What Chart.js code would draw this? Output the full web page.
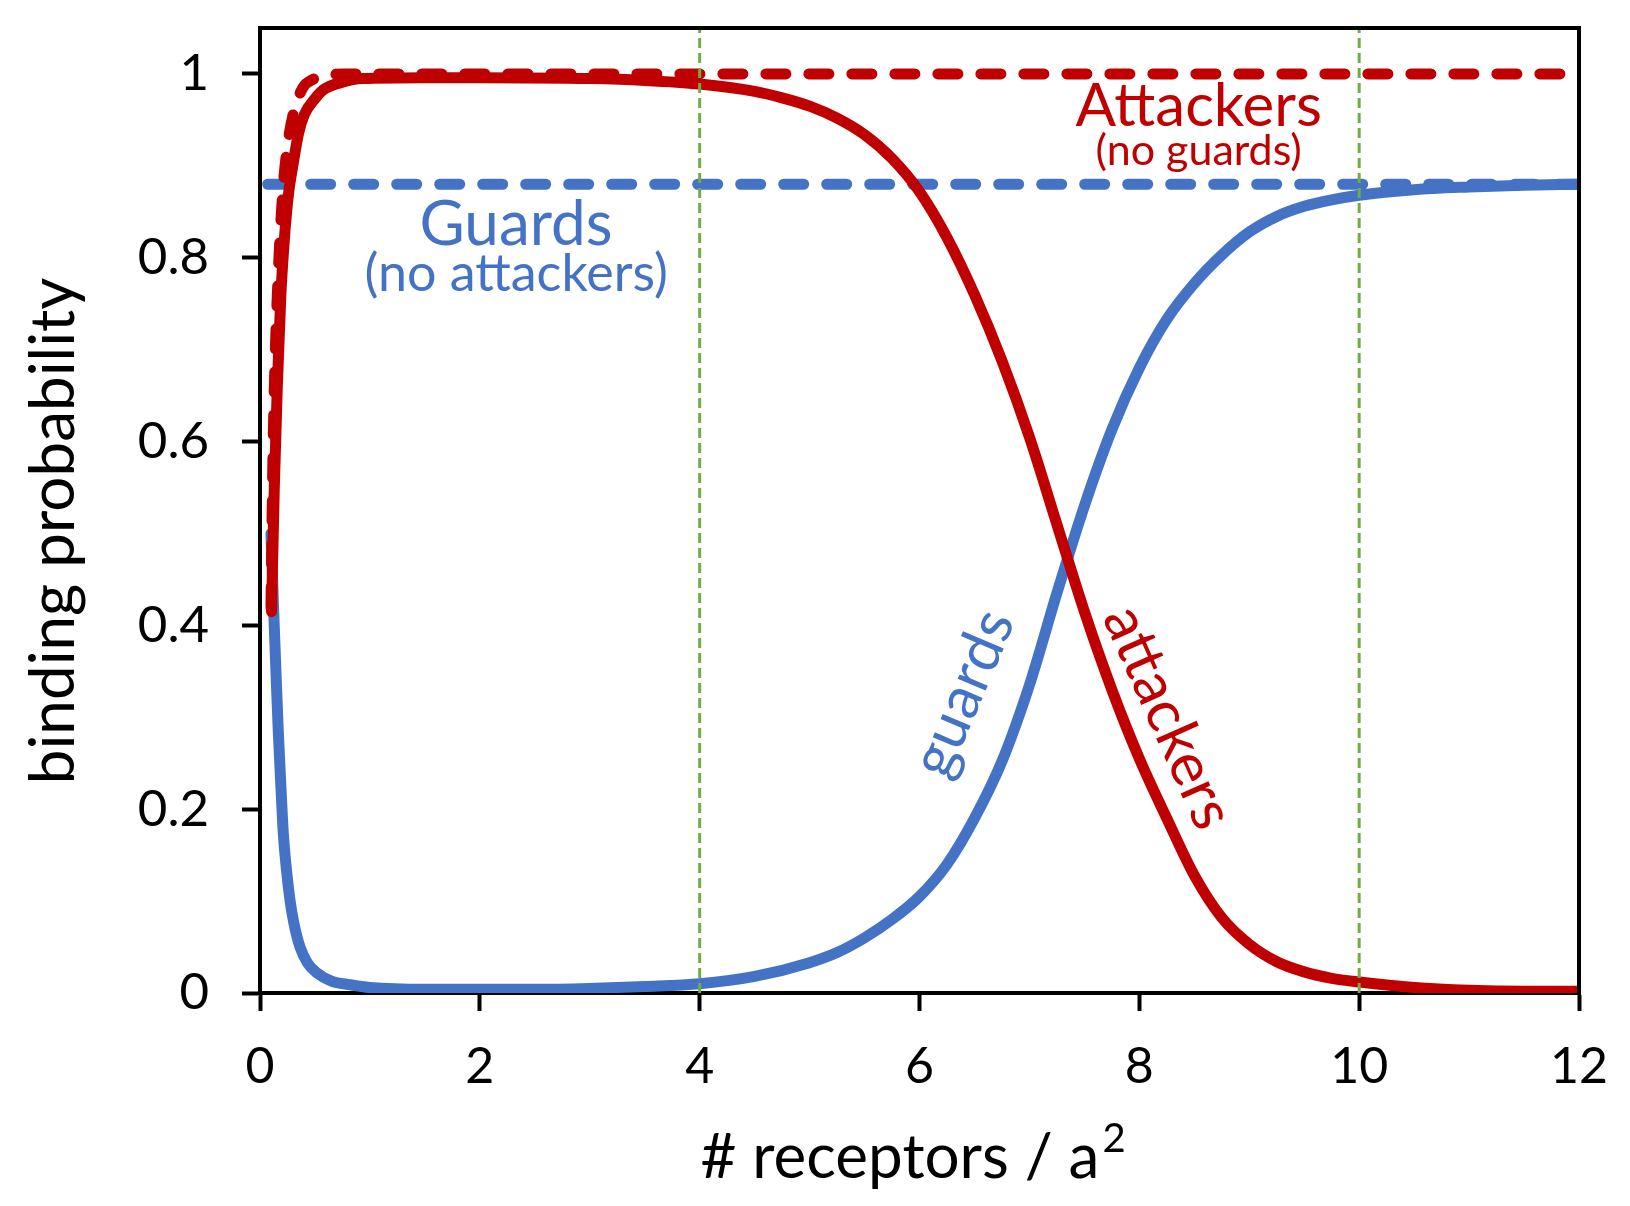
<!DOCTYPE html>
<html>
<head>
<meta charset="utf-8">
<title>Binding probability - guards and attackers</title>
<script src="https://cdn.jsdelivr.net/npm/chart.js"></script>
<style>
    body { margin: 0; background: #fff; }
    .chart-box { width: 1630px; height: 1206px; }
</style>
</head>
<body>
<div class="chart-box"><canvas id="bindingChart"></canvas></div>
<script>
    // values: x = # receptors / a^2, y = binding probability
    var guardsX = [0.1, 0.121, 0.145, 0.167, 0.19, 0.212, 0.24, 0.273, 0.31, 0.364, 0.43, 0.516, 0.65, 0.82, 1.0, 1.5, 2, 2.5, 3, 3.5, 4, 4.5, 5, 5.25, 5.5, 5.75, 6, 6.25, 6.5, 6.75, 7, 7.25, 7.5, 7.75, 8, 8.25, 8.5, 8.75, 9, 9.25, 9.5, 9.75, 10, 10.5, 11, 11.5, 12];
    var guardsY = [0.50, 0.427, 0.35, 0.283, 0.225, 0.174, 0.135, 0.101, 0.075, 0.05, 0.033, 0.022, 0.013, 0.009, 0.006, 0.004, 0.004, 0.004, 0.005, 0.007, 0.010, 0.018, 0.033, 0.044, 0.060, 0.080, 0.105, 0.140, 0.190, 0.252, 0.335, 0.435, 0.530, 0.613, 0.680, 0.733, 0.772, 0.803, 0.828, 0.845, 0.856, 0.863, 0.868, 0.874, 0.877, 0.879, 0.880];

    var attackersX = [0.105, 0.13, 0.158, 0.19, 0.228, 0.26, 0.30, 0.35, 0.404, 0.5, 0.58, 0.75, 0.93, 1.5, 2, 3, 3.5, 4, 4.5, 4.75, 5, 5.25, 5.5, 5.75, 6, 6.25, 6.5, 6.75, 7, 7.25, 7.5, 7.75, 8, 8.25, 8.5, 8.75, 9, 9.25, 9.5, 9.75, 10, 10.5, 11, 11.5, 12];
    var attackersY = [0.415, 0.55, 0.662, 0.76, 0.830, 0.87, 0.901, 0.935, 0.956, 0.973, 0.983, 0.991, 0.995, 0.996, 0.996, 0.995, 0.993, 0.989, 0.981, 0.974, 0.965, 0.952, 0.934, 0.908, 0.872, 0.822, 0.760, 0.688, 0.605, 0.510, 0.415, 0.330, 0.255, 0.190, 0.128, 0.082, 0.053, 0.034, 0.023, 0.016, 0.012, 0.006, 0.003, 0.002, 0.002];

    var guardsAloneX = [0.07, 12];
    var guardsAloneY = [0.88, 0.88];

    var attackersAloneX = [0.1, 0.12, 0.14, 0.165, 0.19, 0.22, 0.26, 0.31, 0.39, 0.48, 0.6, 0.75, 11.85];
    var attackersAloneY = [0.42, 0.6, 0.7, 0.78, 0.84, 0.89, 0.93, 0.96, 0.985, 0.994, 0.998, 1.0, 1.0];

    var markerX = [4, 10];

    var xTicks = [0, 2, 4, 6, 8, 10, 12];
    var xTickLabels = ['0', '2', '4', '6', '8', '10', '12'];
    var yTicks = [0, 0.2, 0.4, 0.6, 0.8, 1];
    var yTickLabels = ['0', '0.2', '0.4', '0.6', '0.8', '1'];

    var xMax = 12, yMax = 1.05;

    var blue = '#4472C4', red = '#C00000', green = '#70AD47';
    var textFont = 'Lato, "Open Sans", sans-serif';

    // text placed in the plot, anchored in data units
    var notes = [
        { text: 'Guards', x: 2.33, y: 0.814, size: 62, color: blue, angle: 0 },
        { text: '(no attackers)', x: 2.33, y: 0.764, size: 52, color: blue, angle: 0 },
        { text: 'Attackers', x: 8.54, y: 0.943, size: 60, color: red, angle: 0 },
        { text: '(no guards)', x: 8.54, y: 0.901, size: 43, color: red, angle: 0 },
        { text: 'guards', x: 6.40, y: 0.326, size: 60, color: blue, angle: -67 },
        { text: 'attackers', x: 8.26, y: 0.30, size: 60, color: red, angle: 66 }
    ];

    function toPoints(xs, ys) {
        return xs.map(function (x, i) { return { x: x, y: ys[i] }; });
    }

    function curve(xs, ys, color, dash) {
        return {
            data: toPoints(xs, ys),
            borderColor: color,
            borderWidth: 11,
            borderDash: dash || [],
            borderCapStyle: 'round',
            borderJoinStyle: 'round',
            cubicInterpolationMode: 'monotone',
            pointRadius: 0,
            fill: false
        };
    }

    // first dataset is painted last, so the green markers sit on top
    var datasets = markerX.map(function (m) {
        return {
            data: [{ x: m, y: 0 }, { x: m, y: yMax }],
            borderColor: green,
            borderWidth: 3,
            borderDash: [10, 5],
            pointRadius: 0,
            fill: false
        };
    });
    datasets.push(curve(attackersX, attackersY, red));
    datasets.push(curve(attackersAloneX, attackersAloneY, red, [20, 23]));
    datasets.push(curve(guardsX, guardsY, blue));
    datasets.push(curve(guardsAloneX, guardsAloneY, blue, [20, 23]));

    var figureText = {
        id: 'figureText',
        afterDatasetsDraw: function (chart) {
            var ctx = chart.ctx;
            var xs = chart.scales.x, ys = chart.scales.y;
            notes.forEach(function (n) {
                ctx.save();
                ctx.translate(xs.getPixelForValue(n.x), ys.getPixelForValue(n.y));
                ctx.rotate(n.angle * Math.PI / 180);
                ctx.font = n.size + 'px ' + textFont;
                ctx.fillStyle = n.color;
                ctx.textAlign = 'center';
                ctx.textBaseline = n.angle ? 'middle' : 'alphabetic';
                ctx.fillText(n.text, 0, 0);
                ctx.restore();
            });
        },
        afterDraw: function (chart) {
            var ctx = chart.ctx, a = chart.chartArea;
            // closed box: top and right edges
            ctx.save();
            ctx.strokeStyle = '#000';
            ctx.lineWidth = 4;
            ctx.beginPath();
            ctx.moveTo(a.left - 2, a.top);
            ctx.lineTo(a.right, a.top);
            ctx.lineTo(a.right, a.bottom + 2);
            ctx.stroke();

            // axis titles
            ctx.fillStyle = '#000';
            ctx.textBaseline = 'alphabetic';
            var main = '# receptors / a', sup = '2';
            ctx.font = '62px ' + textFont;
            var wMain = ctx.measureText(main).width;
            ctx.font = '40px ' + textFont;
            var wSup = ctx.measureText(sup).width;
            var x0 = 913 - (wMain + wSup + 3) / 2;
            ctx.textAlign = 'left';
            ctx.font = '62px ' + textFont;
            ctx.fillText(main, x0, 1178);
            ctx.font = '40px ' + textFont;
            ctx.fillText(sup, x0 + wMain + 3, 1152);

            ctx.textAlign = 'center';
            ctx.font = '62px ' + textFont;
            ctx.translate(74, 531);
            ctx.rotate(-Math.PI / 2);
            ctx.fillText('binding probability', 0, 0);
            ctx.restore();
        }
    };

    function fixPadding(scale) {
        scale.paddingTop = 0;
        scale.paddingBottom = 0;
        scale.paddingLeft = 0;
        scale.paddingRight = 0;
    }

    var ctx = document.getElementById('bindingChart').getContext('2d');
    var bindingChart = new Chart(ctx, {
        type: 'line',
        data: { datasets: datasets },
        options: {
            responsive: true,
            maintainAspectRatio: false,
            animation: false,
            layout: { padding: { left: 0, top: 28, right: 51, bottom: 0 } },
            plugins: {
                legend: { display: false },
                tooltip: { enabled: false }
            },
            scales: {
                x: {
                    type: 'linear',
                    min: 0,
                    max: xMax,
                    afterFit: function (scale) { scale.height = 213; fixPadding(scale); },
                    afterBuildTicks: function (scale) {
                        scale.ticks = xTicks.map(function (v) { return { value: v }; });
                    },
                    grid: { drawOnChartArea: false, tickLength: 18, tickWidth: 4, tickColor: '#000' },
                    border: { display: true, width: 4, color: '#000' },
                    ticks: {
                        autoSkip: false,
                        maxRotation: 0,
                        padding: 26,
                        color: '#000',
                        font: { family: textFont, size: 50 },
                        callback: function (v, i) { return xTickLabels[i]; }
                    }
                },
                y: {
                    type: 'linear',
                    min: 0,
                    max: yMax,
                    afterFit: function (scale) { scale.width = 260; fixPadding(scale); },
                    afterBuildTicks: function (scale) {
                        scale.ticks = yTicks.map(function (v) { return { value: v }; });
                    },
                    grid: { drawOnChartArea: false, tickLength: 18, tickWidth: 4, tickColor: '#000' },
                    border: { display: true, width: 4, color: '#000' },
                    ticks: {
                        autoSkip: false,
                        padding: 33,
                        color: '#000',
                        font: { family: textFont, size: 51 },
                        callback: function (v, i) { return yTickLabels[i]; }
                    }
                }
            }
        },
        plugins: [figureText]
    });

    // pin the plot box to where it sits in the figure
    var area = bindingChart.chartArea;
    if (Math.abs(area.top - 28) > 0.5) {
        bindingChart.options.layout.padding.top += 28 - area.top;
        bindingChart.update();
    }
</script>
</body>
</html>
